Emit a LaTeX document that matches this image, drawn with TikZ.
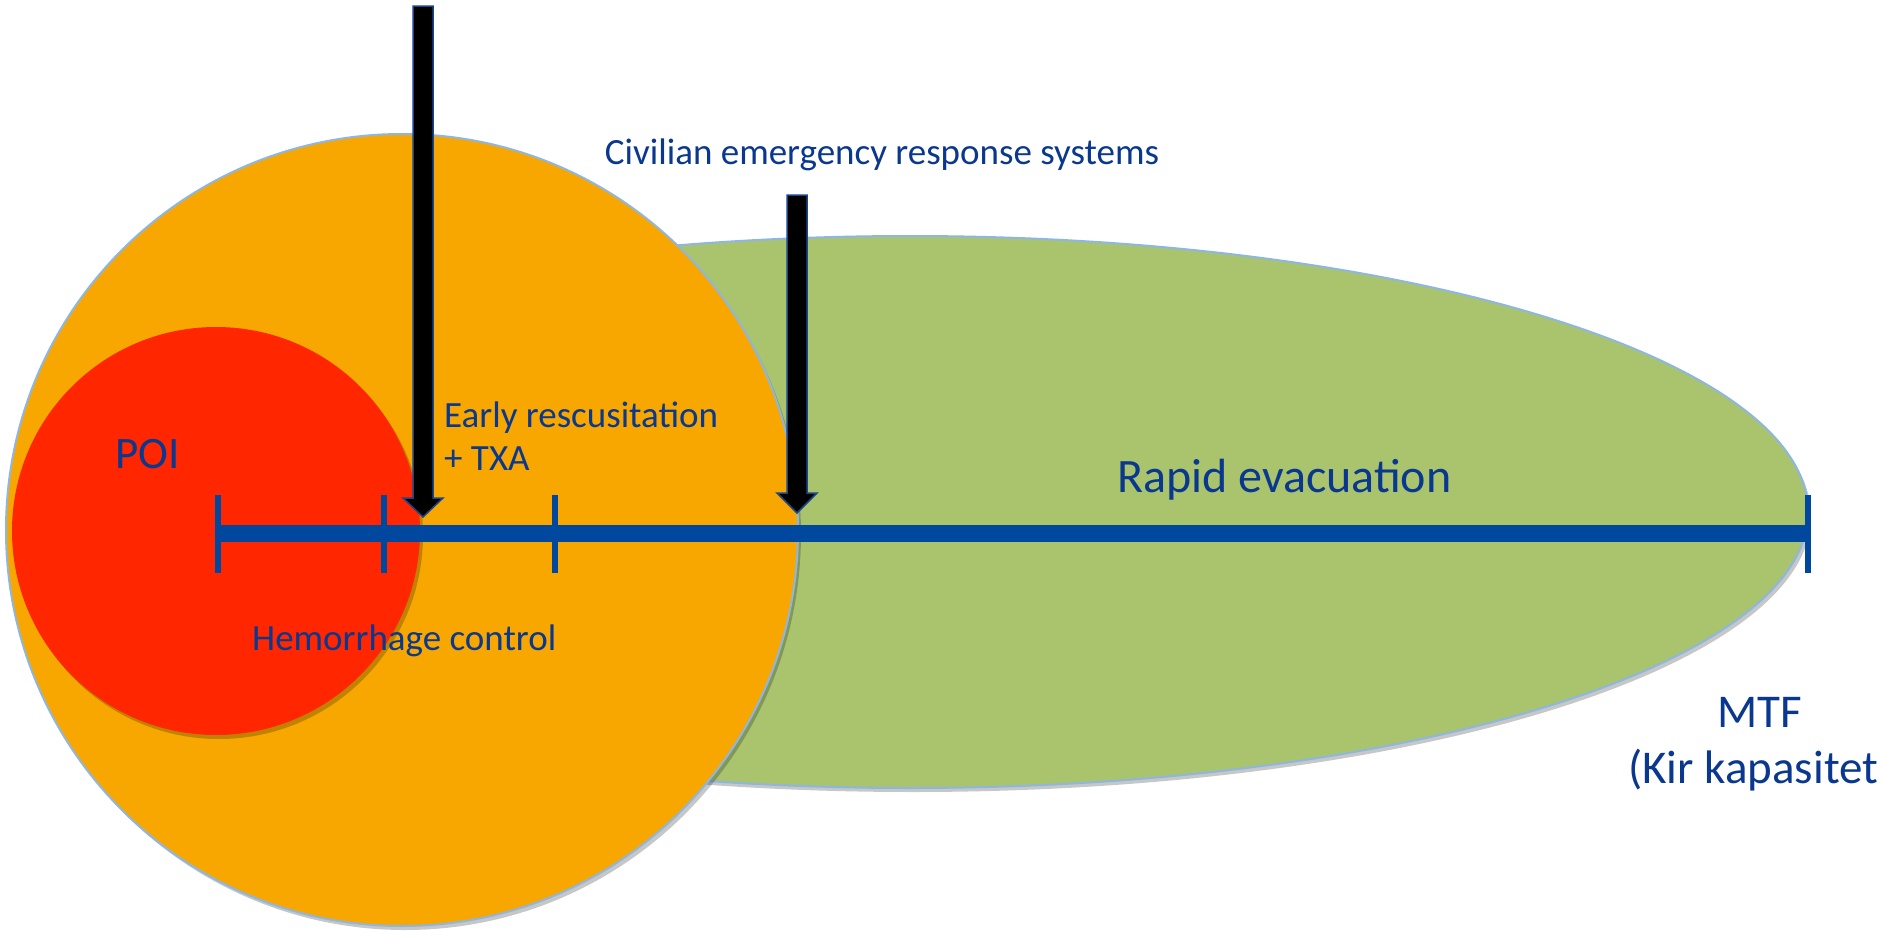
\documentclass[tikz,border=0pt]{standalone}
\usepackage{fontspec}
\setmainfont{Carlito}
\usetikzlibrary{shadows}
\definecolor{orangeC}{RGB}{248,167,0}
\definecolor{redC}{RGB}{255,38,0}
\definecolor{greenC}{RGB}{170,196,110}
\definecolor{rimC}{RGB}{141,182,226}
\definecolor{axisC}{RGB}{0,72,158}
\definecolor{txtC}{RGB}{10,56,142}
\definecolor{arrowrim}{RGB}{25,70,140}
\tikzset{
  zone/.style={draw=rimC, line width=2pt},
  shad/.style={drop shadow={shadow xshift=3pt, shadow yshift=-4pt, fill=black, opacity=0.22}},
  axisline/.style={draw=axisC, line width=17pt},
  tickline/.style={draw=axisC, line width=6pt},
  blockarrow/.style={fill=black, draw=arrowrim, line width=1.5pt, line join=miter},
  lbl/.style={text=txtC, inner sep=0pt},
  small/.style={lbl, font=\fontsize{37}{44}\selectfont},
  big/.style={lbl, font=\fontsize{47}{56}\selectfont},
}
\begin{document}
\begin{tikzpicture}[x=1pt,y=-1pt]
\useasboundingbox (0,0) rectangle (1884,937);
\fill[white] (0,0) rectangle (1884,937);
% zones
\path[zone, fill=greenC, shad] (910,512) ellipse [x radius=898, y radius=276];
\path[zone, fill=orangeC, shad] (402,530) circle [radius=396];
\path[fill=redC, shad] (216,531) circle [radius=204];
% time axis
\coordinate (a0) at (218,533);
\coordinate (a1) at (384,533);
\coordinate (a2) at (555,533);
\coordinate (a3) at (1808,533);
\draw[axisline, shad] (a0) -- (a3);
\foreach \p in {a0,a1,a2,a3}{
  \draw[tickline] ([yshift=38pt]\p) -- ([yshift=-40pt]\p);
}
% block arrows
\path[blockarrow] (413,6) -- (433,6) -- (433,498) -- (443,498) -- (423,517) -- (403,498) -- (413,498) -- cycle;
\path[blockarrow] (787,195) -- (807,195) -- (807,493) -- (817,493) -- (797,513) -- (777,493) -- (787,493) -- cycle;
% labels
\node[big, anchor=base west, font=\fontsize{45}{54}\selectfont] (poi) at (115,468) {POI};
\node[small, anchor=base] (civ) at (882,164) {Civilian emergency response systems};
\node[small, anchor=base west] (early1) at (444,427) {Early rescusitation};
\node[small, anchor=base west] (early2) at (444,470) {+ TXA};
\node[small, anchor=base west] (hem) at (252,650) {Hemorrhage control};
\node[big, anchor=base west, font=\fontsize{48}{57}\selectfont] (rapid) at (1117,492) {Rapid evacuation};
\node[big, anchor=base] (mtf) at (1760,727) {MTF};
\node[big, anchor=base west] (kir) at (1628,783) {(Kir kapasitet};
\end{tikzpicture}
\end{document}
